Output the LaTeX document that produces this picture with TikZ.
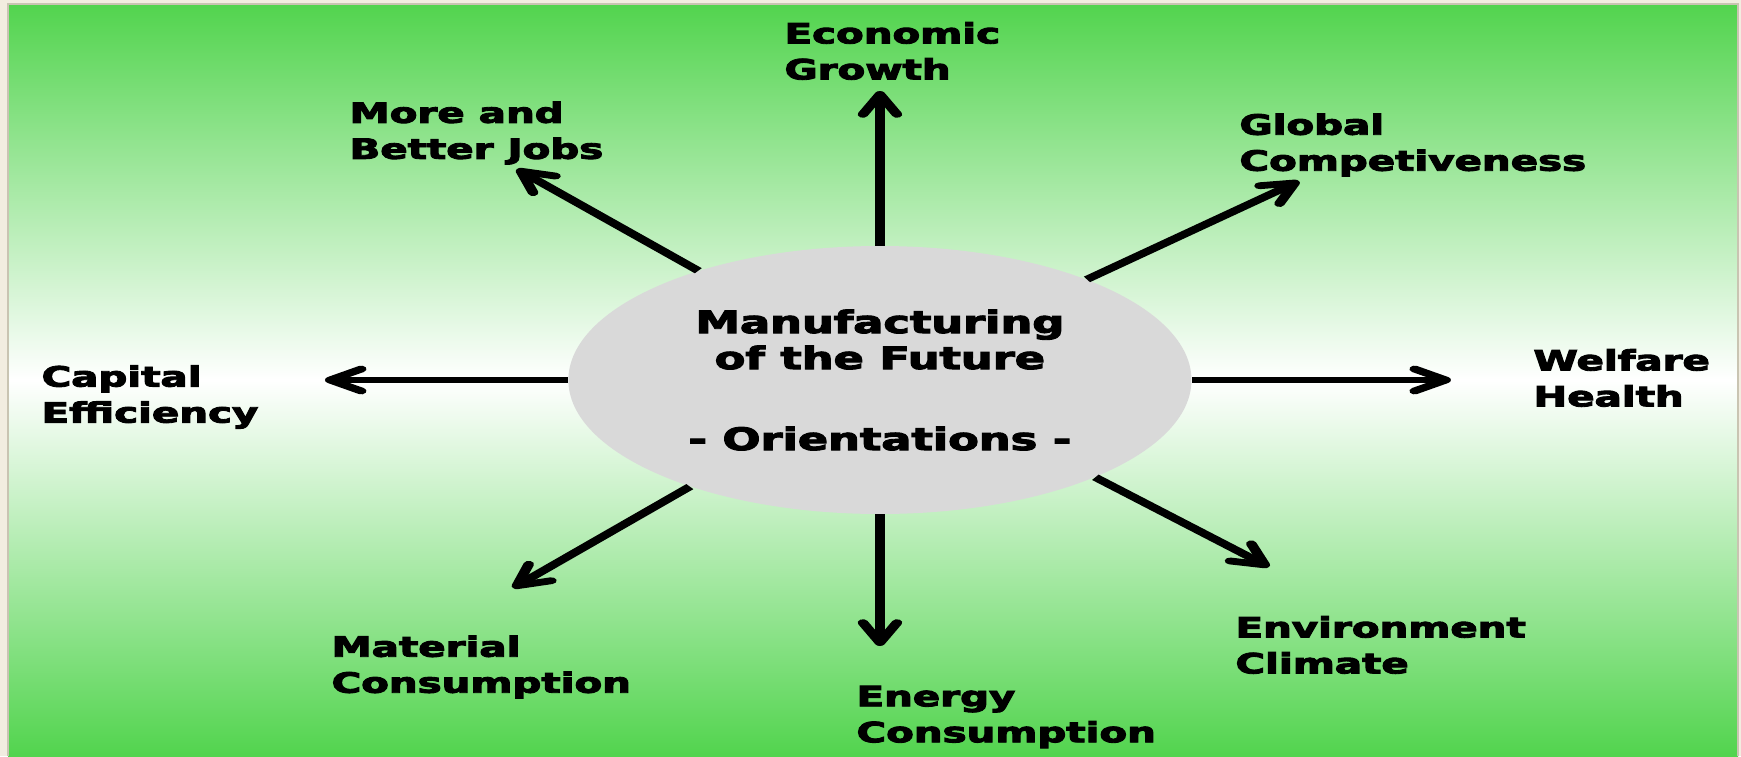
\documentclass[tikz,border=0pt]{standalone}
\usepackage{fontspec}
\setmainfont{DejaVu Sans}[FakeStretch=0.93,BoldFeatures={FakeBold=3}]
\usetikzlibrary{arrows.meta,shapes.geometric}
\definecolor{frame}{HTML}{F2EDE0}
\definecolor{rim}{HTML}{C9C4B2}
\definecolor{leaf}{HTML}{52D44E}
\definecolor{disc}{HTML}{D9D9D9}
\begin{document}
\begin{tikzpicture}[x=0.5pt,y=-0.5pt,
	lbl/.style={anchor=west,align=left,inner sep=0pt,font=\bfseries\fontsize{14}{18}\selectfont},
	arr/.style={line width=3.4pt,-{Straight Barb[length=10pt,width=11pt,round]}}]
	\fill[frame] (0,0) rectangle (1741,756);
	\useasboundingbox (0,0) rectangle (1741,756);
	\shade[top color=leaf,bottom color=leaf,middle color=white] (8,4) rectangle (1738,756);
	\draw[rim,line width=0.8pt] (8,756)--(8,4)--(1738,4)--(1738,756);
	% the whole picture is stretched sideways
	\begin{scope}[xscale=1/1.55,transform canvas={xscale=1.55}]
		\node[ellipse,fill=disc,minimum width=201pt,minimum height=134pt,align=center,inner sep=0pt,
			font=\bfseries\fontsize{15.5}{18}\selectfont] (core) at (880,380)
			{Manufacturing\\of the Future\\[22.5pt]- Orientations -};
		\node[lbl] (econ) at (784,51) {Economic\\Growth};
		\node[lbl] (jobs) at (349,133) {More and\\Better Jobs};
		\node[lbl] (glob) at (1239,145) {Global\\Competiveness};
		\node[lbl] (capi) at (41,397) {Capital\\Efficiency};
		\node[lbl] (welf) at (1533,378) {Welfare\\Health};
		\node[lbl] (mate) at (331,667) {Material\\Consumption};
		\node[lbl] (ener) at (856,717) {Energy\\Consumption};
		\node[lbl] (envi) at (1235,645) {Environment\\Climate};
		\coordinate (tEcon) at (880,91);
		\coordinate (tJobs) at (517,169);
		\coordinate (tGlob) at (1299,181);
		\coordinate (tCapi) at (325,380);
		\coordinate (tWelf) at (1451,380);
		\coordinate (tMate) at (513,588);
		\coordinate (tEner) at (880,646);
		\coordinate (tEnvi) at (1269,567);
		\draw[arr] (core.north)--(tEcon);
		\draw[arr] (core.137)--(tJobs);
		\draw[arr] (core.37)--(tGlob);
		\draw[arr] (core.west)--(tCapi);
		\draw[arr] (core.east)--(tWelf);
		\draw[arr] (core.221)--(tMate);
		\draw[arr] (core.south)--(tEner);
		\draw[arr] (core.-35)--(tEnvi);
	\end{scope}
\end{tikzpicture}
\end{document}
